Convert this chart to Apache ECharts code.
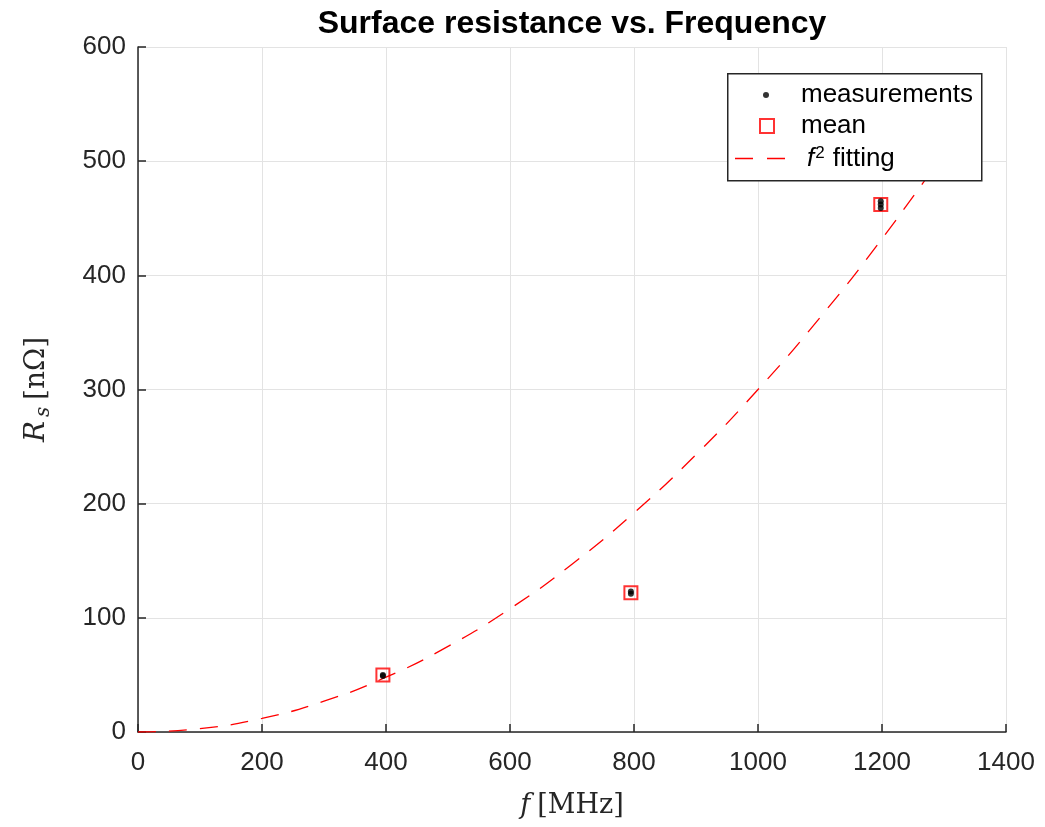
<!DOCTYPE html>
<html>
<head>
<meta charset="utf-8">
<script src="https://cdn.jsdelivr.net/npm/echarts@6/dist/echarts.min.js"></script>
<style>html,body{margin:0;padding:0;background:#fff}#c{width:1045px;height:827px}</style>
</head>
<body>
<div id="c"></div>
<script>
// Measurements [f in MHz, Rs in nOhm]
const measF = [395, 395, 795, 795, 1198, 1198, 1198];
const measR = [49, 50, 121, 123, 459, 462, 465];
// Mean values
const meanF = [395, 795, 1198];
const meanR = [50, 122, 462];
// f^2 fitting curve (ends behind the legend)
const fitF = [0, 100, 200, 300, 400, 500, 600, 700, 800, 900, 1000, 1100, 1200, 1300];
const fitR = [0, 3, 12, 27, 48, 75, 108, 147, 192, 243, 300, 363, 432, 507];
const xTicks = [0, 200, 400, 600, 800, 1000, 1200, 1400];
const yTicks = [0, 100, 200, 300, 400, 500, 600];

const zip = (a, b) => a.map((v, i) => [v, b[i]]);
const chart = echarts.init(document.getElementById('c'));
const sans = 'Liberation Sans, Arial, sans-serif';
const serif = 'DejaVu Serif, Liberation Serif, serif';
const legText = {fontFamily: sans, fontSize: 26, color: '#000'};
const legBase = {orient: 'vertical', padding: 0, z: 100, selectedMode: false};
chart.setOption({
  animation: false,
  backgroundColor: '#fff',
  title: {
    text: 'Surface resistance vs. Frequency',
    left: 567, top: 3, textAlign: 'center',
    textStyle: {fontFamily: sans, fontWeight: 'bold', fontSize: 32, color: '#000'}
  },
  grid: {left: 138, right: 39, top: 47, bottom: 95},
  graphic: [{
    type: 'rect', left: 727, top: 73, z: 90,
    shape: {width: 254, height: 107},
    style: {fill: '#fff', stroke: '#262626', lineWidth: 1.5}
  }],
  xAxis: {
    type: 'value', min: xTicks[0], max: xTicks[xTicks.length-1], interval: 200,
    axisLine: {lineStyle: {color: '#262626', width: 1.5}},
    axisTick: {inside: true, length: 8, lineStyle: {color: '#262626', width: 1.5}},
    axisLabel: {fontFamily: sans, fontSize: 26, color: '#262626', margin: 18, formatter: v => String(v)},
    splitLine: {show: true, lineStyle: {color: '#e3e3e3', width: 1}},
    name: '{i|f}{n|[MHz]}', nameLocation: 'middle', nameGap: 60,
    nameTextStyle: {rich: {
      i: {fontFamily: serif, fontStyle: 'italic', fontSize: 27, color: '#262626', padding: [0, 7, 0, 0]},
      n: {fontFamily: serif, fontSize: 27, color: '#262626'}
    }}
  },
  yAxis: {
    type: 'value', min: yTicks[0], max: yTicks[yTicks.length-1], interval: 100,
    axisLine: {show: true, lineStyle: {color: '#262626', width: 1.5}},
    axisTick: {show: true, inside: true, length: 8, lineStyle: {color: '#262626', width: 1.5}},
    axisLabel: {fontFamily: sans, fontSize: 26, color: '#262626', margin: 12, formatter: v => String(v)},
    splitLine: {show: true, lineStyle: {color: '#e3e3e3', width: 1}},
    name: '{i|R}{s|s}  {n|[nΩ]}', nameLocation: 'middle', nameGap: 84, nameRotate: 90,
    nameTextStyle: {rich: {
      i: {fontFamily: serif, fontStyle: 'italic', fontSize: 28, color: '#262626'},
      s: {fontFamily: serif, fontStyle: 'italic', fontSize: 20, color: '#262626', verticalAlign: 'bottom', padding: [14, 0, 0, 4]},
      n: {fontFamily: serif, fontSize: 28, color: '#262626'}
    }}
  },
  legend: [
    Object.assign({}, legBase, {
      left: 763, top: 82, itemWidth: 6, itemHeight: 6,
      data: [{name: 'measurements', icon: 'circle'}],
      textStyle: Object.assign({}, legText, {padding: [0, 0, 0, 27]})
    }),
    Object.assign({}, legBase, {
      left: 759, top: 113, itemWidth: 14, itemHeight: 14,
      data: [{name: 'mean', icon: 'rect'}],
      textStyle: Object.assign({}, legText, {padding: [0, 0, 0, 22]})
    }),
    Object.assign({}, legBase, {
      left: 735, top: 145, itemWidth: 50, itemHeight: 1.4,
      data: [{name: 'fit', icon: 'path://M0,0h18v1.4h-18z M32,0h18v1.4h-18z', itemStyle: {color: '#ff0000'}}],
      formatter: () => '{f|f}{p|2}fitting',
      textStyle: Object.assign({}, legText, {padding: [0, 0, 0, 17], rich: {
        f: {fontFamily: sans, fontStyle: 'italic', fontSize: 26, color: '#000'},
        p: {fontFamily: sans, fontSize: 17, color: '#000', verticalAlign: 'top', padding: [0, 8, 10, 1]}
      }})
    })
  ],
  series: [
    {
      name: 'fit', type: 'line', data: zip(fitF, fitR), smooth: true, symbol: 'none',
      lineStyle: {color: '#ff0000', width: 1.3, type: [18, 13]}, z: 2
    },
    {
      name: 'mean', type: 'scatter', data: zip(meanF, meanR), symbol: 'rect', symbolSize: 13,
      itemStyle: {color: 'rgba(0,0,0,0)', borderColor: '#ff0000', borderWidth: 2}, z: 3
    },
    {
      name: 'measurements', type: 'scatter', data: zip(measF, measR), symbol: 'circle', symbolSize: 6,
      itemStyle: {color: '#000'}, z: 4
    }
  ]
});
</script>
</body>
</html>
